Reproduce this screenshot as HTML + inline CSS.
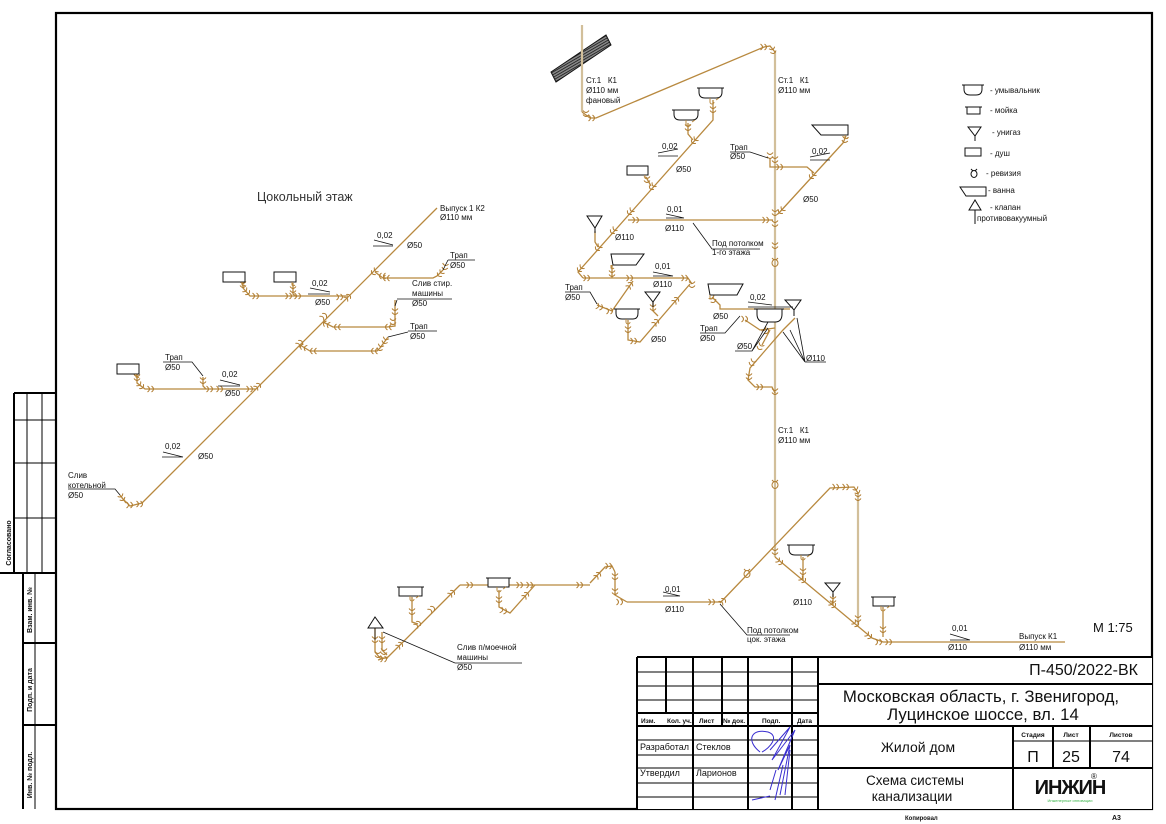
<!DOCTYPE html>
<html><head><meta charset="utf-8"><style>
html,body{margin:0;padding:0;background:#fff;}
svg{display:block;}
text{font-family:"Liberation Sans",Arial,sans-serif;fill:#111;}
.s{font-size:8px;}
.b{font-size:7px;font-weight:bold;}
</style></head><body>
<svg width="1166" height="824" viewBox="0 0 1166 824" xmlns="http://www.w3.org/2000/svg">
<defs>
<symbol id="f" overflow="visible"><path d="M-3.5,-3 Q0.5,0 -3.5,3 M0.5,-3 Q4.5,0 0.5,3" fill="none" stroke="#b07c30" stroke-width="1"/></symbol>
<symbol id="rv" overflow="visible"><ellipse cx="0" cy="1" rx="3" ry="3.5" fill="none" stroke="#b07c30" stroke-width="1"/><path d="M-3,-4 L-1,-2 M3,-4 L1,-2" stroke="#b07c30" stroke-width="1"/></symbol>
<pattern id="h" width="2.4" height="2.4" patternUnits="userSpaceOnUse" patternTransform="rotate(60)"><rect width="2.4" height="2.4" fill="#888"/><line x1="0" y1="0" x2="0" y2="2.4" stroke="#111" stroke-width="1.5"/></pattern>
</defs>
<rect width="1166" height="824" fill="#fff"/>

<!-- Main frame -->
<rect x="56" y="13" width="1096" height="796" fill="none" stroke="#000" stroke-width="2.2"/>

<!-- Left strip -->
<g stroke="#000" fill="none">
<path d="M14,393 H56 M14,393 V573 M0,573 H56" stroke-width="2"/>
<path d="M27,393 V573 M42,393 V573 M14,420 H56 M14,463 H56 M14,518 H56" stroke-width="1"/>
<path d="M23,573 V809 M23,643 H56 M23,725 H56" stroke-width="2"/>
<path d="M35,573 V809" stroke-width="1"/>
</g>
<text class="b" transform="translate(11,543) rotate(-90)" text-anchor="middle">Согласовано</text>
<text class="b" transform="translate(32,610) rotate(-90)" text-anchor="middle">Взам. инв. №</text>
<text class="b" transform="translate(32,690) rotate(-90)" text-anchor="middle">Подп. и дата</text>
<text class="b" transform="translate(32,775) rotate(-90)" text-anchor="middle">Инв. № подл.</text>

<!-- Hatched slab -->
<polygon points="551,72 606,35 611,45 556,82" fill="url(#h)" stroke="#111" stroke-width="1"/>

<!-- Risers (light) -->
<g stroke="#d2bf9a" stroke-width="2.2" fill="none">
<path d="M582,25 V112"/>
<path d="M775,52 V557"/>
<path d="M858,493 V625"/>
</g>

<!-- Branch pipes -->
<g stroke="#b8893f" stroke-width="1.3" fill="none">
<path d="M582,112 L590,118 L596,118 L764,47 L770,46 L775,52"/>
<path d="M713,100 V120 L578,272 L583,278"/>
<path d="M688,123 V134 L693,140"/>
<path d="M646,177 L651,186"/>
<path d="M628,220 H773"/>
<path d="M595,231 V242 L598,247"/>
<path d="M846,136 L843,143 L778,214"/>
<path d="M770,158 V167 H807 L814,173"/>
<path d="M583,278 H688 L692,284"/>
<path d="M612,265 V278"/>
<path d="M597,305 L612,311 L633,281"/>
<path d="M628,320 V340 L640,342 L690,284"/>
<path d="M653,302 V311 L658,316"/>
<path d="M712,297 L720,305 V309 H790"/>
<path d="M795,318 L783,330 L763,353 L750,368 L748,380 L755,387 L772,387 L775,393"/>
<path d="M745,320 L760,330 L775,328 M770,330 L762,345"/>
<!-- lower floor -->
<path d="M775,557 L872,638 L883,642 H1065"/>
<path d="M803,557 V580"/>
<path d="M833,594 V605"/>
<path d="M720,603 L830,488 L854,487 L858,493"/>
<path d="M883,607 V637"/>
<path d="M627,602 H720"/>
<path d="M615,572 V595 L627,602"/>
<path d="M590,583 L605,567 L612,566 L615,572"/>
<path d="M460,585 H590"/>
<path d="M499,590 V607 L510,613 L535,585"/>
<path d="M460,585 L388,657 L378,660"/>
<path d="M412,597 V622 L418,624"/>
<path d="M375,628 V652 L380,658 L388,658"/>
<path d="M382,632 V650 L387,655"/>
<!-- basement -->
<path d="M437,208 L142,503 L130,506 L122,498"/>
<path d="M443,270 L437,276 L433,278 H383 L375,272"/>
<path d="M243,282 V288 L250,296 H348"/>
<path d="M293,283 V294 L297,297"/>
<path d="M395,300 V326 L387,327 H333 L323,322"/>
<path d="M388,337 L380,348 L377,351 H310 L300,345"/>
<path d="M137,374 V383 L145,389 H256"/>
<path d="M203,377 V386 L206,389"/>
<path d="M120,495 L126,503"/>
</g>

<!-- Fittings -->
<g>
<use href="#f" transform="translate(586,114) rotate(90)"/>
<use href="#f" transform="translate(592,118)"/>
<use href="#f" transform="translate(764,47)"/>
<use href="#f" transform="translate(773,51) rotate(70)"/>
<use href="#f" transform="translate(775,160) rotate(90)"/>
<use href="#f" transform="translate(775,213) rotate(90)"/>
<use href="#f" transform="translate(775,224) rotate(90)"/>
<use href="#f" transform="translate(775,246) rotate(90)"/>
<use href="#f" transform="translate(775,392) rotate(90)"/>
<use href="#f" transform="translate(775,552) rotate(90)"/>
<use href="#f" transform="translate(713,110) rotate(90)"/>
<use href="#f" transform="translate(688,128) rotate(90)"/>
<use href="#f" transform="translate(647,180) rotate(90)"/>
<use href="#f" transform="translate(694,141) rotate(132)"/>
<use href="#f" transform="translate(652,187) rotate(132)"/>
<use href="#f" transform="translate(630,212) rotate(132)"/>
<use href="#f" transform="translate(613,231) rotate(132)"/>
<use href="#f" transform="translate(598,248) rotate(132)"/>
<use href="#f" transform="translate(580,269) rotate(132)"/>
<use href="#f" transform="translate(636,220)"/>
<use href="#f" transform="translate(766,220)"/>
<use href="#f" transform="translate(845,140) rotate(100)"/>
<use href="#f" transform="translate(812,176) rotate(132)"/>
<use href="#f" transform="translate(781,211) rotate(132)"/>
<use href="#f" transform="translate(770,156) rotate(90)"/>
<use href="#f" transform="translate(780,167)"/>
<use href="#f" transform="translate(587,278)"/>
<use href="#f" transform="translate(612,274) rotate(90)"/>
<use href="#f" transform="translate(630,278)"/>
<use href="#f" transform="translate(685,278)"/>
<use href="#f" transform="translate(692,285) rotate(90)"/>
<use href="#f" transform="translate(600,307) rotate(20)"/>
<use href="#f" transform="translate(610,311)"/>
<use href="#f" transform="translate(630,285) rotate(-55)"/>
<use href="#f" transform="translate(628,330) rotate(90)"/>
<use href="#f" transform="translate(634,341)"/>
<use href="#f" transform="translate(656,322) rotate(-50)"/>
<use href="#f" transform="translate(676,300) rotate(-50)"/>
<use href="#f" transform="translate(653,308) rotate(90)"/>
<use href="#f" transform="translate(713,300) rotate(60)"/>
<use href="#f" transform="translate(745,319)"/>
<use href="#f" transform="translate(766,331) rotate(45)"/>
<use href="#f" transform="translate(760,347) rotate(120)"/>
<use href="#f" transform="translate(752,363) rotate(120)"/>
<use href="#f" transform="translate(749,377) rotate(90)"/>
<use href="#f" transform="translate(760,387)"/>
<use href="#f" transform="translate(780,562) rotate(40)"/>
<use href="#f" transform="translate(803,580) rotate(40)"/>
<use href="#f" transform="translate(833,605) rotate(40)"/>
<use href="#f" transform="translate(856,624) rotate(40)"/>
<use href="#f" transform="translate(869,636) rotate(40)"/>
<use href="#f" transform="translate(803,572) rotate(90)"/>
<use href="#f" transform="translate(833,600) rotate(90)"/>
<use href="#f" transform="translate(858,619) rotate(90)"/>
<use href="#f" transform="translate(883,630) rotate(90)"/>
<use href="#f" transform="translate(879,642)"/>
<use href="#f" transform="translate(889,642)"/>
<use href="#f" transform="translate(723,601) rotate(-46)"/>
<use href="#f" transform="translate(836,487)"/>
<use href="#f" transform="translate(846,487)"/>
<use href="#f" transform="translate(857,491) rotate(60)"/>
<use href="#f" transform="translate(858,498) rotate(90)"/>
<use href="#f" transform="translate(620,602)"/>
<use href="#f" transform="translate(712,602)"/>
<use href="#f" transform="translate(615,577) rotate(90)"/>
<use href="#f" transform="translate(615,592) rotate(90)"/>
<use href="#f" transform="translate(609,566)"/>
<use href="#f" transform="translate(598,575) rotate(-50)"/>
<use href="#f" transform="translate(470,585)"/>
<use href="#f" transform="translate(520,585)"/>
<use href="#f" transform="translate(530,585)"/>
<use href="#f" transform="translate(580,585)"/>
<use href="#f" transform="translate(499,600) rotate(90)"/>
<use href="#f" transform="translate(504,611) rotate(20)"/>
<use href="#f" transform="translate(526,595) rotate(-50)"/>
<use href="#f" transform="translate(452,593) rotate(-45)"/>
<use href="#f" transform="translate(432,609) rotate(-45)"/>
<use href="#f" transform="translate(418,624) rotate(-45)"/>
<use href="#f" transform="translate(400,645) rotate(-45)"/>
<use href="#f" transform="translate(412,612) rotate(90)"/>
<use href="#f" transform="translate(375,640) rotate(90)"/>
<use href="#f" transform="translate(378,655) rotate(90)"/>
<use href="#f" transform="translate(384,659)"/>
<use href="#f" transform="translate(382,640) rotate(90)"/>
<use href="#f" transform="translate(384,652) rotate(90)"/>
<!-- basement -->
<use href="#f" transform="translate(374,272) rotate(135)"/>
<use href="#f" transform="translate(382,276) rotate(180)"/>
<use href="#f" transform="translate(386,278) rotate(180)"/>
<use href="#f" transform="translate(445,267) rotate(100)"/>
<use href="#f" transform="translate(440,274) rotate(130)"/>
<use href="#f" transform="translate(348,297) rotate(-45)"/>
<use href="#f" transform="translate(340,297)"/>
<use href="#f" transform="translate(243,285) rotate(90)"/>
<use href="#f" transform="translate(247,292) rotate(45)"/>
<use href="#f" transform="translate(256,296)"/>
<use href="#f" transform="translate(289,296)"/>
<use href="#f" transform="translate(298,296)"/>
<use href="#f" transform="translate(293,290) rotate(90)"/>
<use href="#f" transform="translate(395,312) rotate(90)"/>
<use href="#f" transform="translate(393,322) rotate(90)"/>
<use href="#f" transform="translate(388,327) rotate(180)"/>
<use href="#f" transform="translate(337,327) rotate(180)"/>
<use href="#f" transform="translate(326,324) rotate(200)"/>
<use href="#f" transform="translate(324,316) rotate(-45)"/>
<use href="#f" transform="translate(385,341) rotate(110)"/>
<use href="#f" transform="translate(380,348) rotate(110)"/>
<use href="#f" transform="translate(374,351) rotate(180)"/>
<use href="#f" transform="translate(313,351) rotate(180)"/>
<use href="#f" transform="translate(303,347) rotate(200)"/>
<use href="#f" transform="translate(300,343) rotate(-45)"/>
<use href="#f" transform="translate(137,378) rotate(90)"/>
<use href="#f" transform="translate(141,386) rotate(45)"/>
<use href="#f" transform="translate(151,389)"/>
<use href="#f" transform="translate(203,381) rotate(90)"/>
<use href="#f" transform="translate(210,389)"/>
<use href="#f" transform="translate(220,389)"/>
<use href="#f" transform="translate(250,389)"/>
<use href="#f" transform="translate(258,386) rotate(-45)"/>
<use href="#f" transform="translate(122,498) rotate(60)"/>
<use href="#f" transform="translate(130,505)"/>
<use href="#f" transform="translate(140,504)"/>
<use href="#rv" transform="translate(775,262)"/>
<use href="#rv" transform="translate(775,484)"/>
<use href="#rv" transform="translate(747,573)"/>
</g>

<!-- Fixtures -->
<g stroke="#111" stroke-width="1" fill="#fff">
<path d="M697,88 H724 M699,88 V92 Q699,98 705,98 H716 Q722,98 722,92 V88"/>
<path d="M672,110 H700 M674,110 V114 Q674,120 680,120 H692 Q698,120 698,114 V110"/>
<path d="M614,309 H640 M616,309 V313 Q616,319 622,319 H633 Q638,319 638,313 V309"/>
<path d="M754,309 H784 M757,309 V314 Q757,322 765,322 H775 Q782,322 782,314 V309"/>
<path d="M787,545 H815 M789,545 V549 Q789,555 795,555 H808 Q813,555 813,549 V545"/>
<path d="M486,578 H511"/><rect x="488" y="578" width="21" height="9"/>
<path d="M397,587 H424"/><rect x="399" y="587" width="23" height="9"/>
<path d="M871,597 H896"/><rect x="873" y="597" width="21" height="9"/>
<rect x="627" y="166" width="21" height="9"/>
<rect x="223" y="272" width="22" height="10"/>
<rect x="274" y="272" width="22" height="10"/>
<rect x="117" y="364" width="22" height="10"/>
<path d="M812,125 H848 V135 H821 Z"/>
<path d="M611,254 H644 L636,265 H613 Z"/>
<path d="M708,284 H743 L737,295 H710 Z"/>
<path d="M587,216 H602 L595,228 Z M595,228 V233"/>
<path d="M645,292 H660 L653,302 Z M653,302 V307"/>
<path d="M785,300 H801 L794,310 Z M794,310 V316"/>
<path d="M825,583 H840 L833,592 Z M833,592 V597"/>
<path d="M368,628 L375,617 L383,628 Z"/>
</g>
<g stroke="#b8893f" fill="none" stroke-width="1">
<path d="M710,98 v4 a2,2 0 0 0 4,0 M716,100 l3,-2"/>
<path d="M686,120 v4 a2,2 0 0 0 4,0 M692,122 l3,-2"/>
<path d="M645,175 v3 a2,2 0 0 0 3,0"/>
<path d="M845,135 v3 a2,2 0 0 0 3,0"/>
<path d="M611,265 v3 a2,2 0 0 0 3,0"/>
<path d="M710,295 v3 a2,2 0 0 0 3,0"/>
<path d="M626,319 v3 a2,2 0 0 0 4,0"/>
<path d="M242,282 v3 a2,2 0 0 0 3,0"/>
<path d="M292,282 v3 a2,2 0 0 0 3,0"/>
<path d="M136,374 v3 a2,2 0 0 0 3,0"/>
<path d="M497,587 v3 a2,2 0 0 0 4,0 M503,589 l3,-2"/>
<path d="M410,596 v3 a2,2 0 0 0 4,0 M416,598 l3,-2"/>
<path d="M801,555 v3 a2,2 0 0 0 4,0 M807,557 l3,-2"/>
<path d="M881,606 v3 a2,2 0 0 0 4,0 M887,608 l3,-2"/>
</g>

<!-- Leaders & slope marks -->
<g stroke="#111" stroke-width="0.8" fill="none">
<path d="M658,153 L678,149 M658,156 H678"/>
<path d="M810,157 L830,153 M810,160 H830"/>
<path d="M666,214 L684,218 M666,218 H684"/>
<path d="M693,223 L712,249 H760"/>
<path d="M653,272 L673,276 M653,276 H673"/>
<path d="M748,302 L772,305 M748,307 H793"/>
<path d="M730,152 H750 L768,158"/>
<path d="M565,292 H590 L597,304"/>
<path d="M700,333 H725 L740,316"/>
<path d="M735,351 H752 L768,328 M752,351 L768,322"/>
<path d="M805,362 H826 M805,362 L783,332 M805,362 L797,318 M805,362 L790,330"/>
<path d="M950,634 L970,640 M950,640 H970"/>
<path d="M720,604 L747,635 H790"/>
<path d="M663,592 L680,596 M663,596 H680"/>
<path d="M455,663 H522 M455,663 L383,632"/>
<path d="M374,240 L393,245 M373,246 H393"/>
<path d="M448,260 H475 M448,260 L443,270"/>
<path d="M310,288 L330,292 M308,294 H330"/>
<path d="M397,299 H452 M397,300 L395,306"/>
<path d="M408,331 H437 M408,332 L388,337"/>
<path d="M163,362 H192 L203,376"/>
<path d="M220,380 L240,385 M218,386 H240"/>
<path d="M163,452 L183,457 M162,457 H183"/>
<path d="M68,489 H115 L120,495"/>
<path d="M375,628 V640"/>
</g>

<!-- Labels -->
<g class="s">
<text class="s" x="586" y="83">Ст.1&#160;&#160;&#160;К1</text>
<text class="s" x="586" y="93">Ø110 мм</text>
<text class="s" x="586" y="103">фановый</text>
<text class="s" x="778" y="83">Ст.1&#160;&#160;&#160;К1</text>
<text class="s" x="778" y="93">Ø110 мм</text>
<text class="s" x="662" y="149">0,02</text>
<text class="s" x="676" y="172">Ø50</text>
<text class="s" x="730" y="150">Трап</text>
<text class="s" x="730" y="159">Ø50</text>
<text class="s" x="812" y="154">0,02</text>
<text class="s" x="803" y="202">Ø50</text>
<text class="s" x="667" y="212">0,01</text>
<text class="s" x="665" y="231">Ø110</text>
<text class="s" x="615" y="240">Ø110</text>
<text class="s" x="712" y="246">Под потолком</text>
<text class="s" x="712" y="255">1-го этажа</text>
<text class="s" x="655" y="269">0,01</text>
<text class="s" x="653" y="287">Ø110</text>
<text class="s" x="565" y="290">Трап</text>
<text class="s" x="565" y="300">Ø50</text>
<text class="s" x="651" y="342">Ø50</text>
<text class="s" x="750" y="300">0,02</text>
<text class="s" x="713" y="319">Ø50</text>
<text class="s" x="700" y="331">Трап</text>
<text class="s" x="700" y="341">Ø50</text>
<text class="s" x="737" y="349">Ø50</text>
<text class="s" x="806" y="361">Ø110</text>
<text class="s" x="778" y="433">Ст.1&#160;&#160;&#160;К1</text>
<text class="s" x="778" y="443">Ø110 мм</text>
<text class="s" x="793" y="605">Ø110</text>
<text class="s" x="747" y="633">Под потолком</text>
<text class="s" x="747" y="642">цок. этажа</text>
<text class="s" x="665" y="592">0,01</text>
<text class="s" x="665" y="612">Ø110</text>
<text class="s" x="952" y="631">0,01</text>
<text class="s" x="948" y="650">Ø110</text>
<text class="s" x="1019" y="639">Выпуск К1</text>
<text class="s" x="1019" y="650">Ø110 мм</text>
<text x="1093" y="632" style="font-size:13px">М 1:75</text>
<text class="s" x="457" y="650">Слив п/моечной</text>
<text class="s" x="457" y="660">машины</text>
<text class="s" x="457" y="670">Ø50</text>
<text x="257" y="201" style="font-size:12.5px;fill:#333">Цокольный этаж</text>
<text class="s" x="440" y="211">Выпуск 1 К2</text>
<text class="s" x="440" y="220">Ø110 мм</text>
<text class="s" x="377" y="238">0,02</text>
<text class="s" x="407" y="248">Ø50</text>
<text class="s" x="450" y="258">Трап</text>
<text class="s" x="450" y="268">Ø50</text>
<text class="s" x="312" y="286">0,02</text>
<text class="s" x="315" y="305">Ø50</text>
<text class="s" x="412" y="286">Слив стир.</text>
<text class="s" x="412" y="296">машины</text>
<text class="s" x="412" y="306">Ø50</text>
<text class="s" x="410" y="329">Трап</text>
<text class="s" x="410" y="339">Ø50</text>
<text class="s" x="165" y="360">Трап</text>
<text class="s" x="165" y="370">Ø50</text>
<text class="s" x="222" y="377">0,02</text>
<text class="s" x="225" y="396">Ø50</text>
<text class="s" x="165" y="449">0,02</text>
<text class="s" x="198" y="459">Ø50</text>
<text class="s" x="68" y="478">Слив</text>
<text class="s" x="68" y="488">котельной</text>
<text class="s" x="68" y="498">Ø50</text>
</g>

<!-- Legend -->
<g stroke="#111" stroke-width="1" fill="#fff">
<path d="M962,85 H984 M964,85 V89 Q964,95 970,95 H976 Q982,95 982,89 V85"/>
<path d="M965,107 H982"/><rect x="967" y="107" width="13" height="7"/>
<path d="M968,127 H981 L975,136 Z M975,136 V141"/>
<rect x="965" y="148" width="16" height="8"/>
<ellipse cx="974" cy="174" rx="3" ry="3.5"/>
<path d="M971,169 L973,171 M977,169 L975,171"/>
<path d="M960,187 H986 V196 H966 Z"/>
<path d="M969,210 L975,200 L981,210 Z M975,210 V224"/>
</g>
<g class="s">
<text class="s" x="990" y="93">- умывальник</text>
<text class="s" x="990" y="113">- мойка</text>
<text class="s" x="992" y="135">- унигаз</text>
<text class="s" x="990" y="156">- душ</text>
<text class="s" x="986" y="176">- ревизия</text>
<text class="s" x="988" y="193">- ванна</text>
<text class="s" x="990" y="210">- клапан</text>
<text class="s" x="977" y="221">противовакуумный</text>
</g>

<!-- Title block -->
<rect x="637" y="657" width="515" height="152" fill="#fff" stroke="none"/>
<g stroke="#000" fill="none">
<path d="M637,657 H1152 M637,657 V809" stroke-width="2"/>
<path d="M666,657 V713 M693,657 V809 M722,657 V726 M748,657 V809 M792,657 V809 M818,657 V809" stroke-width="2"/>
<path d="M637,713 H818 M637,726 H818" stroke-width="2"/>
<path d="M637,672 H818 M637,686 H818 M637,700 H818 M637,740 H818 M637,755 H818 M637,768 H818 M637,783 H818 M637,797 H818" stroke-width="1"/>
<path d="M818,684 H1152 M818,726 H1152 M818,768 H1152" stroke-width="2"/>
<path d="M1013,726 V809 M1053,726 V768 M1090,726 V768" stroke-width="2"/>
<path d="M1013,741 H1152" stroke-width="1"/>
</g>
<text class="b" x="641" y="723" style="font-size:6.5px">Изм.</text>
<text class="b" x="667" y="723" style="font-size:6.5px">Кол. уч.</text>
<text class="b" x="699" y="723" style="font-size:6.5px">Лист</text>
<text class="b" x="723" y="723" style="font-size:6.5px">№ док.</text>
<text class="b" x="762" y="723" style="font-size:6.5px">Подп.</text>
<text class="b" x="797" y="723" style="font-size:6.5px">Дата</text>
<text x="640" y="750" style="font-size:9px">Разработал</text>
<text x="696" y="750" style="font-size:9px">Стеклов</text>
<text x="640" y="776" style="font-size:9px">Утвердил</text>
<text x="696" y="776" style="font-size:9px">Ларионов</text>
<path d="M760,752 C745,740 752,728 768,732 C780,736 770,748 762,752 M770,750 L790,727 L772,760 L795,730 L778,770 L790,745 L780,795 M776,770 L770,790 M783,765 L775,800 M790,750 L785,795 M770,796 L752,800" fill="none" stroke="#3a2fd0" stroke-width="1"/>
<text x="1138" y="675" text-anchor="end" style="font-size:16px">П-450/2022-ВК</text>
<text x="981" y="702" text-anchor="middle" style="font-size:16.8px">Московская область, г. Звенигород,</text>
<text x="983" y="720" text-anchor="middle" style="font-size:16.8px">Луцинское шоссе, вл. 14</text>
<text x="918" y="752" text-anchor="middle" style="font-size:14px">Жилой дом</text>
<text x="915" y="785" text-anchor="middle" style="font-size:13.5px">Схема системы</text>
<text x="912" y="801" text-anchor="middle" style="font-size:13.5px">канализации</text>
<text class="b" x="1033" y="737" text-anchor="middle" style="font-size:6.5px">Стадия</text>
<text class="b" x="1071" y="737" text-anchor="middle" style="font-size:6.5px">Лист</text>
<text class="b" x="1121" y="737" text-anchor="middle" style="font-size:6.5px">Листов</text>
<text x="1033" y="762" text-anchor="middle" style="font-size:16px">П</text>
<text x="1071" y="762" text-anchor="middle" style="font-size:16px">25</text>
<text x="1121" y="762" text-anchor="middle" style="font-size:16px">74</text>
<text x="1070" y="794" text-anchor="middle" style="font-size:20px;font-weight:bold;letter-spacing:-1px">ИНЖИН</text>
<text x="1091" y="779" style="font-size:8px">®</text>
<text x="1070" y="802" text-anchor="middle" style="font-size:4px;fill:#3bb54a">Инженерные инновации</text>
<text class="b" x="905" y="820" style="font-size:6px">Копировал</text>
<text class="b" x="1112" y="820" style="font-size:7px">А3</text>
</svg>
</body></html>
